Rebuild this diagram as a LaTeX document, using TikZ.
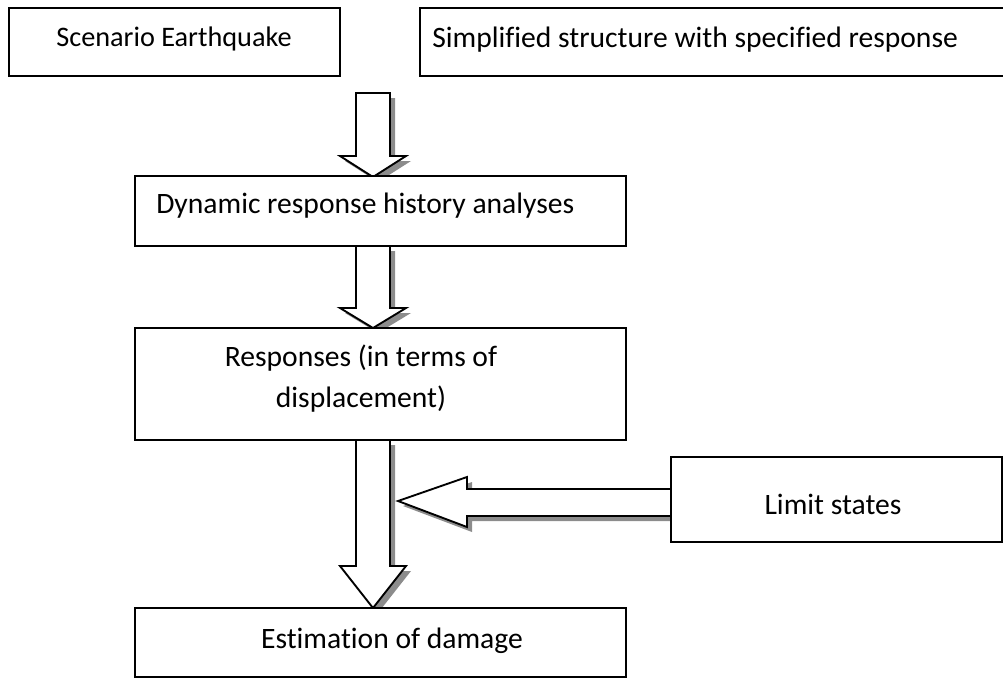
\documentclass[tikz,border=0pt]{standalone}
\usepackage{fontspec}
\setmainfont[Ligatures=CommonOff]{Carlito}
\tikzset{
  box/.style={draw, line width=1.4pt, fill=white},
  lbl/.style={font=\fontsize{22.2}{31}\selectfont, inner sep=0pt},
  lblsmall/.style={font=\fontsize{21.2}{31}\selectfont, inner sep=0pt},
  barrow/.style={draw, fill=white, line width=1.4pt, line join=miter},
  bshadow/.style={fill=black!45},
}
% down block arrow: x, ytop, ybase(head), ytip
\newcommand\myDownArrow[4]{%
  \fill[bshadow, shift={(5,5)}] (#1-17,#2) -- (#1+17,#2) -- (#1+17,#3) -- (#1+33,#3) -- (#1,#4) -- (#1-33,#3) -- (#1-17,#3) -- cycle;
  \draw[barrow] (#1-17,#2) -- (#1+17,#2) -- (#1+17,#3) -- (#1+33,#3) -- (#1,#4) -- (#1-33,#3) -- (#1-17,#3) -- cycle;
}
\begin{document}
\begin{tikzpicture}[x=0.75pt, y=-0.75pt]
\useasboundingbox (0,0) rectangle (1003,679);
\clip (0,0) rectangle (1003,679);

% block arrows (drawn first, boxes cover the shadow ends)
\myDownArrow{373}{93}{156}{177}
\myDownArrow{373}{246}{308}{328}
\myDownArrow{373}{440}{566}{608}
% left-pointing block arrow from Limit states
\fill[bshadow, shift={(5,5)}] (672,489) -- (467,489) -- (467,477) -- (398,501) -- (467,527) -- (467,516) -- (672,516) -- cycle;
\draw[barrow] (672,489) -- (467,489) -- (467,477) -- (398,501) -- (467,527) -- (467,516) -- (672,516);

% boxes
\draw[box] (9,8) rectangle (340,76);
\node[lblsmall, anchor=base] (t1) at (174,46) {Scenario Earthquake};

\draw[box] (420,8) rectangle (1012,76);
\node[lbl, anchor=base west] (t2) at (432,47) {Simplified structure with specified response};

\draw[box] (135,176) rectangle (626,246);
\node[lbl, anchor=base west] (t3) at (156,213) {Dynamic response history analyses};

\draw[box] (135,328) rectangle (626,440);
\node[lbl, anchor=base] (t4a) at (361,366) {Responses (in terms of};
\node[lbl, anchor=base] (t4b) at (361,407) {displacement)};

\draw[box] (671,457) rectangle (1002,542);
\node[lbl, anchor=base] (t6) at (833,514) {Limit states};

\draw[box] (135,608) rectangle (626,677);
\node[lbl, anchor=base] (t5) at (392,648) {Estimation of damage};
\end{tikzpicture}
\end{document}
